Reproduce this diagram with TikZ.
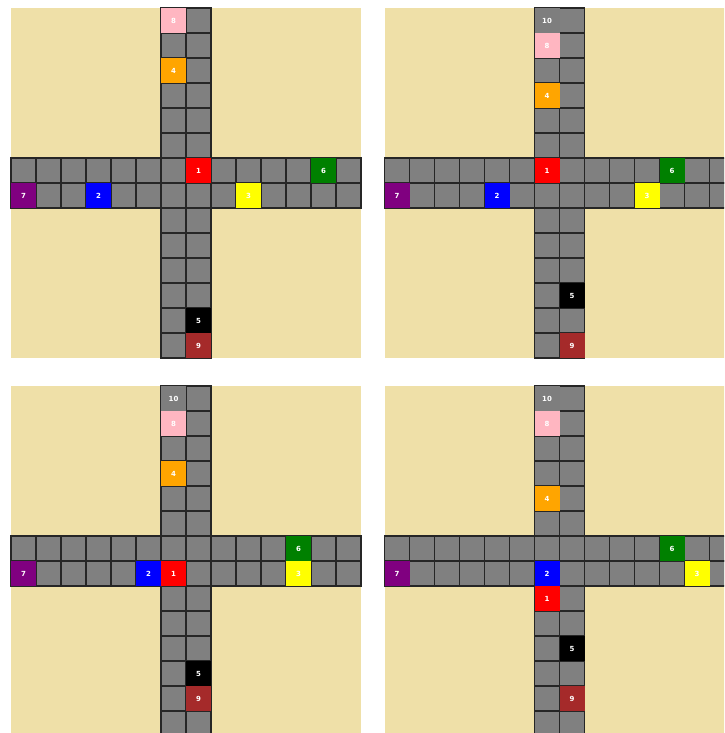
\documentclass[tikz,border=0pt]{standalone}
\usepackage{fontspec}
\setsansfont{DejaVu Sans}
\definecolor{sand}{HTML}{EFE0A8}
\definecolor{road}{HTML}{808080}
\definecolor{carpink}{HTML}{FFB6C1}
\definecolor{carorange}{HTML}{FFA500}
\definecolor{cargreen}{HTML}{008000}
\definecolor{carpurple}{HTML}{800080}
\definecolor{carbrown}{HTML}{A52A2A}
\definecolor{cargray}{HTML}{7E7E7E}
\definecolor{caryellow}{HTML}{FFFF00}
\definecolor{carblue}{HTML}{0000FF}
\definecolor{carred}{HTML}{FF0000}
\tikzset{
  cell/.style={draw=black!85, line width=1.1pt, fill=road, minimum size=25pt,
    inner sep=0pt, outer sep=0pt, anchor=north west},
  car/.style={minimum size=25pt, inner sep=0pt, outer sep=0pt, anchor=north west,
    text=white, font=\sffamily\bfseries\fontsize{7}{7}\selectfont},
  ground/.style={fill=sand},
}
\newcommand\roadpanel[4]{% #1 x, #2 y, #3 id, #4 cars
  \fill[ground] (#1,#2) rectangle ++(350,350);
  \foreach \c in {6,7} \foreach \r in {0,...,13}
    \node[cell] (p#3-\c-\r) at ({#1+\c*25},{#2+\r*25}) {};
  \foreach \c in {0,...,5,8,9,10,11,12,13} \foreach \r in {6,7}
    \node[cell] (p#3-\c-\r) at ({#1+\c*25},{#2+\r*25}) {};
  \foreach \col/\c/\r/\t in {#4}
    \node[car, fill=\col] (p#3-car\t) at ({#1+\c*25},{#2+\r*25}) {\t\hspace{5pt}};
}
\begin{document}
\begin{tikzpicture}[x=1pt, y=-1pt]
  \useasboundingbox (0,0) rectangle (724,733);
  \clip (0,0) rectangle (724,733);
  \fill[white] (0,0) rectangle (724,733);
  \roadpanel{11}{8}{1}{carpink/6/0/8, carorange/6/2/4, carred/7/6/1, cargreen/12/6/6,
    carpurple/0/7/7, carblue/3/7/2, caryellow/9/7/3, black/7/12/5, carbrown/7/13/9}
  \roadpanel{384.5}{8}{2}{cargray/6/0/10, carpink/6/1/8, carorange/6/3/4, carred/6/6/1,
    cargreen/11/6/6, carpurple/0/7/7, carblue/4/7/2, caryellow/10/7/3, black/7/11/5,
    carbrown/7/13/9}
  \roadpanel{11}{386}{3}{cargray/6/0/10, carpink/6/1/8, carorange/6/3/4, cargreen/11/6/6,
    carpurple/0/7/7, carblue/5/7/2, carred/6/7/1, caryellow/11/7/3, black/7/11/5,
    carbrown/7/12/9}
  \roadpanel{384.5}{386}{4}{cargray/6/0/10, carpink/6/1/8, carorange/6/4/4, cargreen/11/6/6,
    carpurple/0/7/7, carblue/6/7/2, caryellow/12/7/3, carred/6/8/1, black/7/10/5,
    carbrown/7/12/9}
\end{tikzpicture}
\end{document}
